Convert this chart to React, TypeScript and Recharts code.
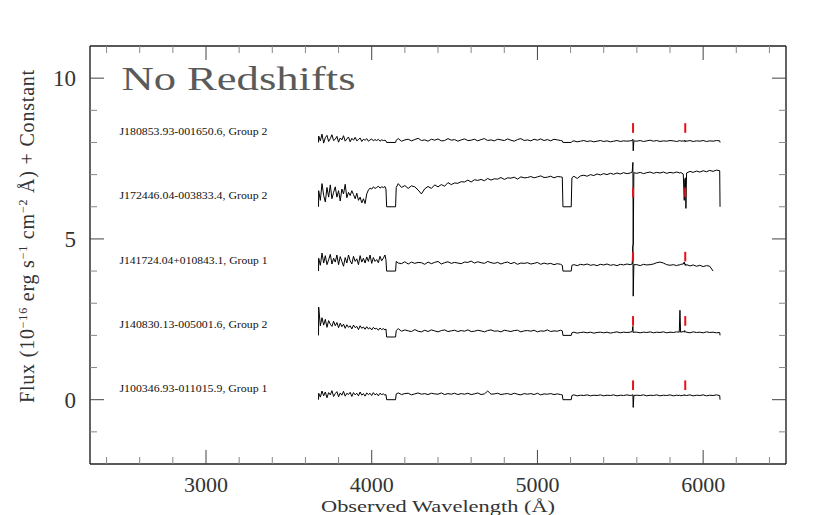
import React from "react";
import { LineChart, Line, XAxis, YAxis, ReferenceLine, ReferenceDot } from "recharts";

// wavelength grid (Å), shared by all five spectra
const WAVES = [
  3679,
  3680, 3690, 3700, 3710, 3720, 3730, 3740, 3750, 3760, 3770,
  3780, 3790, 3800, 3810, 3820, 3830, 3840, 3850, 3860, 3870,
  3880, 3890, 3900, 3910, 3920, 3930, 3940, 3950, 3960, 3970,
  3980, 3990, 4000, 4010, 4020, 4030, 4040, 4050, 4060, 4070,
  4080, 4086,
  4090, 4144,
  4148, 4160, 4180, 4200, 4220, 4240, 4260, 4280, 4300, 4320,
  4340, 4360, 4380, 4400, 4420, 4440, 4460, 4480, 4500, 4520,
  4540, 4560, 4580, 4600, 4620, 4640, 4660, 4680, 4700, 4720,
  4740, 4760, 4780, 4800, 4820, 4840, 4860, 4880, 4900, 4920,
  4940, 4960, 4980, 5000, 5020, 5040, 5060, 5080, 5100, 5120, 5140, 5150,
  5154, 5204,
  5208, 5220, 5240, 5260, 5280, 5300, 5320, 5340, 5360, 5380,
  5400, 5420, 5440, 5460, 5480, 5500, 5520, 5540, 5560,
  5572, 5576, 5578, 5582,
  5600, 5620, 5640, 5660, 5680, 5700, 5720, 5740, 5760, 5780, 5800, 5820, 5840,
  5856, 5860, 5864, 5880,
  5886, 5889, 5893, 5896,
  5900, 5920, 5940, 5960, 5980, 6000, 6020, 6040, 6060, 6080, 6100,
  6102,
];

// J180853.93-001650.6 (+8)
const FLUX_1 = [
  8.0,
  8.2, 8.05, 8.26, 7.98, 8.15, 8.22, 8.03, 8.12, 8.24, 8.06,
  8.1, 8.19, 8.01, 8.14, 8.08, 8.21, 8.04, 8.11, 8.17, 8.02,
  8.13, 8.07, 8.16, 8.05, 8.09, 8.14, 8.03, 8.1, 8.07, 8.12,
  8.04, 8.08, 8.11, 8.05, 8.09, 8.06, 8.1, 8.04, 8.08, 8.06,
  8.07, 8.05,
  8.0, 8.0,
  8.07, 8.12, 8.04, 8.08, 8.1, 8.05, 8.09, 8.13, 8.06, 8.08,
  8.04, 8.1, 8.07, 8.11, 8.05, 8.06, 8.12, 8.07, 8.09, 8.04,
  8.08, 8.11, 8.06, 8.07, 8.1, 8.05, 8.09, 8.12, 8.06, 8.08,
  8.05, 8.1, 8.08, 8.06, 8.11, 8.07, 8.04, 8.09, 8.12, 8.06,
  8.08, 8.05, 8.1, 8.07, 8.11, 8.06, 8.09, 8.05, 8.1, 8.08, 8.06, 8.05,
  8.0, 8.0,
  8.03, 8.05, 8.02, 8.04, 8.06, 8.03, 8.05, 8.02, 8.04, 8.06,
  8.03, 8.05, 8.02, 8.04, 8.06, 8.03, 8.05, 8.04, 8.05,
  8.06, 8.1, 7.74, 8.05,
  8.04, 8.06, 8.03, 8.05, 8.07, 8.04, 8.06, 8.03, 8.05, 8.04, 8.06, 8.05, 8.03,
  8.05, 8.07, 8.04, 8.05,
  8.03, 8.07, 8.02, 8.06,
  8.04, 8.06, 8.03, 8.05, 8.04, 8.06, 8.03, 8.05, 8.04, 8.06, 8.05,
  8.0,
];

// J172446.04-003833.4 (+6)
const FLUX_2 = [
  6.0,
  6.5, 6.2, 6.72, 6.35, 6.15, 6.6, 6.3, 6.68, 6.25, 6.45,
  6.62, 6.3, 6.5, 6.18, 6.55, 6.4, 6.7, 6.28, 6.45, 6.35,
  6.5, 6.38, 6.25, 6.42, 6.2, 6.3, 6.12, 6.25, 6.1, 6.4,
  6.52, 6.58, 6.55, 6.62, 6.57, 6.6, 6.64, 6.58, 6.62, 6.6,
  6.63, 6.55,
  6.0, 6.0,
  6.6, 6.72, 6.6, 6.66, 6.57, 6.65, 6.62, 6.52, 6.4, 6.56,
  6.63, 6.57, 6.68, 6.62, 6.69, 6.64, 6.75, 6.69, 6.74, 6.73,
  6.78, 6.77, 6.83, 6.77, 6.84, 6.82, 6.85, 6.81, 6.88, 6.83,
  6.87, 6.86, 6.91, 6.85, 6.9, 6.89, 6.92, 6.86, 6.93, 6.9,
  6.91, 6.94, 6.9, 6.93, 6.96, 6.91, 6.92, 6.95, 6.9, 6.94, 6.93, 6.92,
  6.0, 6.0,
  6.9, 6.95, 6.88, 6.96, 6.98, 6.95, 7.0, 6.97, 7.02, 6.99,
  7.03, 7.0, 7.04, 7.01, 7.05, 7.02, 7.06, 7.03, 7.05,
  7.08, 7.38, 4.8, 7.06,
  7.04, 7.07, 7.03, 7.06, 7.08, 7.04, 7.07, 7.05, 7.08, 7.04, 7.07, 7.05, 7.08,
  7.06, 7.04, 7.07, 7.02,
  6.2, 6.85, 6.9, 5.95,
  7.05, 7.1, 7.07, 7.11, 7.08, 7.12, 7.09, 7.13, 7.1, 7.14, 7.12,
  6.0,
];

// J141724.04+010843.1 (+4)
const FLUX_3 = [
  4.0,
  4.4, 4.18, 4.56, 4.25, 4.48, 4.2, 4.35, 4.52, 4.22, 4.4,
  4.28, 4.5, 4.2, 4.45, 4.3, 4.15, 4.42, 4.25, 4.5, 4.32,
  4.22, 4.46, 4.3, 4.38, 4.2, 4.48, 4.28, 4.4, 4.25, 4.44,
  4.3, 4.5, 4.24, 4.42, 4.3, 4.36, 4.26, 4.46, 4.32, 4.4,
  4.5, 4.35,
  4.0, 4.0,
  4.3, 4.25, 4.23, 4.29, 4.22, 4.28, 4.24, 4.27, 4.26, 4.21,
  4.28, 4.23, 4.27, 4.3, 4.22, 4.26, 4.29, 4.24, 4.27, 4.25,
  4.23, 4.28, 4.27, 4.31, 4.25, 4.29, 4.26, 4.24, 4.3, 4.26,
  4.24, 4.27, 4.22, 4.26, 4.28, 4.23, 4.27, 4.21, 4.25, 4.24,
  4.26, 4.22, 4.24, 4.27, 4.21, 4.25, 4.22, 4.24, 4.2, 4.23, 4.21, 4.18,
  4.0, 4.0,
  4.18, 4.2, 4.17, 4.21, 4.19, 4.22, 4.18, 4.2, 4.17, 4.21,
  4.19, 4.22, 4.18, 4.2, 4.17, 4.21, 4.19, 4.22, 4.2,
  4.22, 4.8, 3.22, 4.2,
  4.2, 4.17, 4.21, 4.19, 4.2, 4.22, 4.26, 4.28, 4.25, 4.2, 4.18, 4.2, 4.17,
  4.2, 4.18, 4.21, 4.22,
  4.28, 4.2, 4.22, 4.17,
  4.2, 4.16, 4.19, 4.15, 4.18, 4.14, 4.17, 4.15, 4.0, null, null,
  null,
];

// J140830.13-005001.6 (+2)
const FLUX_4 = [
  2.0,
  2.88, 2.3, 2.55, 2.32, 2.5, 2.25, 2.46, 2.35, 2.28, 2.44,
  2.3, 2.4, 2.24, 2.38, 2.27, 2.35, 2.22, 2.33, 2.25, 2.3,
  2.2, 2.32, 2.24, 2.28, 2.18, 2.3, 2.22, 2.26, 2.19, 2.27,
  2.2, 2.24, 2.17, 2.25, 2.2, 2.22, 2.16, 2.23, 2.18, 2.21,
  2.17, 2.2,
  1.95, 1.95,
  2.15, 2.21, 2.13, 2.17, 2.14, 2.12, 2.18, 2.13, 2.11, 2.16,
  2.12, 2.17, 2.14, 2.11, 2.15, 2.17, 2.12, 2.14, 2.16, 2.12,
  2.15, 2.13, 2.17, 2.12, 2.13, 2.16, 2.14, 2.11, 2.15, 2.17,
  2.13, 2.14, 2.11, 2.16, 2.14, 2.12, 2.15, 2.16, 2.11, 2.14,
  2.15, 2.13, 2.16, 2.11, 2.14, 2.13, 2.17, 2.12, 2.14, 2.13, 2.16, 2.14,
  2.0, 2.0,
  2.08, 2.1, 2.07, 2.09, 2.1, 2.08, 2.1, 2.07, 2.09, 2.1,
  2.08, 2.1, 2.07, 2.09, 2.11, 2.08, 2.1, 2.09, 2.1,
  2.12, 2.28, 2.08, 2.1,
  2.1, 2.08, 2.1, 2.09, 2.11, 2.08, 2.1, 2.09, 2.11, 2.08, 2.1, 2.09, 2.11,
  2.1, 2.78, 2.1, 2.12,
  2.1, 2.15, 2.12, 2.09,
  2.1, 2.08, 2.11, 2.09, 2.1, 2.08, 2.11, 2.09, 2.1, 2.08, 2.09,
  2.0,
];

// J100346.93-011015.9 (+0)
const FLUX_5 = [
  0.0,
  0.2, 0.08, 0.27, 0.12, 0.24, 0.06, 0.22, 0.15, 0.28, 0.1,
  0.19, 0.25, 0.09, 0.21, 0.14, 0.26, 0.11, 0.2, 0.16, 0.23,
  0.1, 0.22, 0.15, 0.2, 0.12, 0.24, 0.14, 0.19, 0.11, 0.21,
  0.16, 0.2, 0.13, 0.22, 0.15, 0.19, 0.12, 0.2, 0.16, 0.18,
  0.14, 0.16,
  0.0, 0.0,
  0.18, 0.21, 0.16, 0.19, 0.2, 0.15, 0.18, 0.21, 0.17, 0.19,
  0.16, 0.2, 0.18, 0.17, 0.21, 0.16, 0.19, 0.17, 0.2, 0.16,
  0.19, 0.17, 0.2, 0.16, 0.18, 0.21, 0.16, 0.18, 0.27, 0.17,
  0.18, 0.2, 0.16, 0.18, 0.19, 0.16, 0.2, 0.17, 0.15, 0.19,
  0.17, 0.19, 0.16, 0.2, 0.15, 0.18, 0.17, 0.19, 0.16, 0.18, 0.16, 0.15,
  0.0, 0.0,
  0.13, 0.15, 0.12, 0.14, 0.13, 0.15, 0.12, 0.14, 0.13, 0.15,
  0.12, 0.14, 0.13, 0.15, 0.12, 0.14, 0.13, 0.15, 0.13,
  0.14, 0.16, -0.24, 0.13,
  0.14, 0.13, 0.15, 0.12, 0.14, 0.13, 0.15, 0.12, 0.14, 0.13, 0.15, 0.12, 0.14,
  0.13, 0.15, 0.12, 0.14,
  0.13, 0.16, 0.12, 0.14,
  0.13, 0.15, 0.12, 0.14, 0.13, 0.15, 0.12, 0.14, 0.13, 0.15, 0.13,
  0.0,
];

const SERIES_KEYS = ["s1", "s2", "s3", "s4", "s5"];
const SERIES_NAMES = [
  "J180853.93-001650.6, Group 2",
  "J172446.04-003833.4, Group 2",
  "J141724.04+010843.1, Group 1",
  "J140830.13-005001.6, Group 2",
  "J100346.93-011015.9, Group 1",
];
const OFFSETS = [8, 6, 4, 2, 0];

// red marks: 5577 sky line and Na D
const MARK_WAVES = [5577, 5892];
const MARK_LOW = 0.3;
const MARK_HIGH = 0.6;

const LABEL_WAVE = 2478;
const LABEL_LIFT = 0.36;
const TITLE = "No Redshifts";
const TITLE_Y = 9.62;

const X_DOMAIN = [2300, 6500];
const Y_DOMAIN = [-2, 11];
const X_TICKS = [2400, 2600, 2800, 3000, 3200, 3400, 3600, 3800, 4000, 4200, 4400, 4600, 4800, 5000, 5200, 5400, 5600, 5800, 6000, 6200, 6400];
const X_MAJOR = [3000, 4000, 5000, 6000];
const Y_TICKS = [-1, 0, 1, 2, 3, 4, 5, 6, 7, 8, 9, 10];
const Y_MAJOR = [0, 5, 10];

const FONT = '"Liberation Serif", "DejaVu Serif", serif';
const INK = "#333";

const rows = WAVES.map((w, i) => ({
  w,
  s1: FLUX_1[i],
  s2: FLUX_2[i],
  s3: FLUX_3[i],
  s4: FLUX_4[i],
  s5: FLUX_5[i],
}));

type Side = "bottom" | "top" | "left" | "right";

function makeTick(side: Side, majors: number[], withLabel: boolean) {
  return (props: any) => {
    const { x, y, payload } = props;
    const major = majors.includes(payload.value);
    const len = major ? 14 : 7;
    let x2 = x;
    let y2 = y;
    if (side === "bottom") y2 = y - len;
    if (side === "top") y2 = y + len;
    if (side === "left") x2 = x + len;
    if (side === "right") x2 = x - len;
    return (
      <g>
        <line x1={x} y1={y} x2={x2} y2={y2} stroke={major ? "#444" : "#888"} strokeWidth={1} />
        {withLabel && major && side === "bottom" && (
          <text x={x} y={y + 28} textAnchor="middle" fontFamily={FONT} fontSize={22} fill={INK}>
            {payload.value}
          </text>
        )}
        {withLabel && major && side === "left" && (
          <text x={x - 14} y={y + 8} textAnchor="end" fontFamily={FONT} fontSize={23} fill={INK}>
            {payload.value}
          </text>
        )}
      </g>
    );
  };
}

function XLabel(props: any) {
  const { x, y, width } = props.viewBox;
  return (
    <text
      x={x + width / 2} y={y + 48} textAnchor="middle" fontFamily={FONT} fontSize={17} fill={INK}
      textLength={234} lengthAdjust="spacingAndGlyphs"
    >
      Observed Wavelength (Å)
    </text>
  );
}

function YLabel() {
  const cx = 34;
  const cy = 236;
  return (
    <text x={cx} y={cy} transform={`rotate(-90 ${cx} ${cy})`} textAnchor="middle" fontFamily={FONT} fontSize={20} fill={INK} letterSpacing={0.8}>
      Flux (10<tspan dy={-7} fontSize={12}>−16</tspan>
      <tspan dy={7}> erg s</tspan>
      <tspan dy={-7} fontSize={12}>−1</tspan>
      <tspan dy={7}> cm</tspan>
      <tspan dy={-7} fontSize={12}>−2</tspan>
      <tspan dy={7}> Å) + Constant</tspan>
    </text>
  );
}

const axisLine = { stroke: "#222", strokeWidth: 1.4 };

export default function App() {
  return (
    <div style={{ position: "absolute", left: 0, top: 0, background: "#fff" }}>
      <LineChart width={830} height={515} data={rows} margin={{ top: 0, right: 0, bottom: 0, left: 0 }}>
        <XAxis
          dataKey="w" type="number" domain={X_DOMAIN} ticks={X_TICKS} allowDataOverflow interval={0}
          height={51} tickSize={0} tickMargin={0} tickLine={false} axisLine={axisLine}
          tick={makeTick("bottom", X_MAJOR, true)} label={XLabel}
        />
        <XAxis
          xAxisId="top" orientation="top" dataKey="w" type="number" domain={X_DOMAIN} ticks={X_TICKS} allowDataOverflow interval={0}
          height={46} tickSize={0} tickMargin={0} tickLine={false} axisLine={axisLine}
          tick={makeTick("top", X_MAJOR, false)}
        />
        <YAxis
          type="number" domain={Y_DOMAIN} ticks={Y_TICKS} allowDataOverflow interval={0}
          width={90} tickSize={0} tickMargin={0} tickLine={false} axisLine={axisLine}
          tick={makeTick("left", Y_MAJOR, true)} label={YLabel}
        />
        <YAxis
          yAxisId="right" orientation="right" type="number" domain={Y_DOMAIN} ticks={Y_TICKS} allowDataOverflow interval={0}
          width={44} tickSize={0} tickMargin={0} tickLine={false} axisLine={axisLine}
          tick={makeTick("right", Y_MAJOR, false)}
        />

        {SERIES_KEYS.map((k) => (
          <Line
            key={k} dataKey={k} type="linear" stroke="#000" strokeWidth={1}
            dot={false} activeDot={false} isAnimationActive={false} connectNulls={false}
          />
        ))}

        {OFFSETS.flatMap((off) =>
          MARK_WAVES.map((mw) => (
            <ReferenceLine
              key={`${off}-${mw}`}
              segment={[{ x: mw, y: off + MARK_LOW }, { x: mw, y: off + MARK_HIGH }]}
              stroke="#e8101a" strokeWidth={2}
            />
          ))
        )}

        {SERIES_NAMES.map((name, i) => (
          <ReferenceDot
            key={name} x={LABEL_WAVE} y={OFFSETS[i] + LABEL_LIFT} r={0}
            shape={(p: any) => (
              <text x={p.cx} y={p.cy + 4} fontFamily={FONT} fontSize={10.5} fill="#111" textLength={148} lengthAdjust="spacingAndGlyphs">
                {name}
              </text>
            )}
          />
        ))}

        <ReferenceDot
          x={LABEL_WAVE} y={TITLE_Y} r={0}
          shape={(p: any) => (
            <text x={p.cx + 2} y={p.cy} fontFamily={FONT} fontSize={33} fill="#5a5a5a" textLength={234} lengthAdjust="spacingAndGlyphs">
              {TITLE}
            </text>
          )}
        />
      </LineChart>
    </div>
  );
}
